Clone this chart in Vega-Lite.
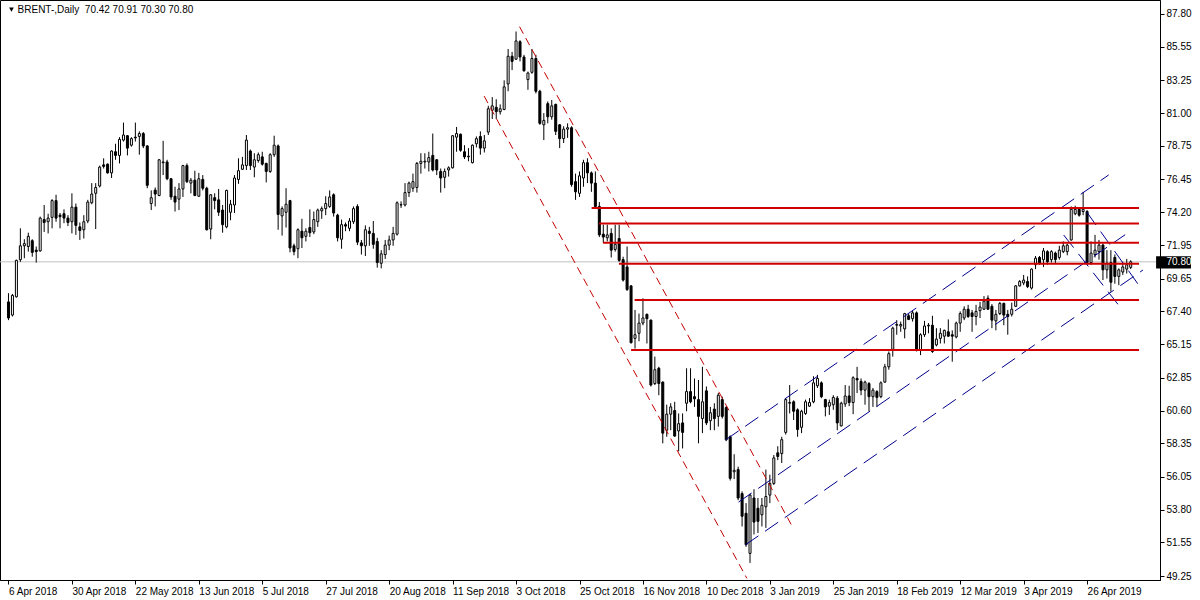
{
  "$schema": "https://vega.github.io/schema/vega-lite/v6.json",
  "width": 1160,
  "height": 580,
  "autosize": {"type": "none"},
  "padding": {"left": 0, "top": 0, "right": 40, "bottom": 20},
  "background": "#ffffff",
  "config": {
    "view": {"stroke": "#000000", "strokeWidth": 1},
    "font": "Liberation Sans",
    "axis": {"domainColor": "#000000", "tickColor": "#000000", "labelColor": "#000000", "labelFont": "Liberation Sans", "labelFontSize": 10, "grid": false}
  },
  "datasets": {
    "bars": [
      {"d":"2018-04-06","i":0,"o":68.05,"h":68.65,"l":66.8,"c":66.95},
      {"d":"2018-04-09","i":1,"o":67.15,"h":68.6,"l":67.05,"c":68.5},
      {"d":"2018-04-10","i":2,"o":68.4,"h":70.95,"l":68.35,"c":70.9},
      {"d":"2018-04-11","i":3,"o":70.95,"h":73.1,"l":70.8,"c":71.9},
      {"d":"2018-04-12","i":4,"o":71.9,"h":72.35,"l":71.05,"c":72.05},
      {"d":"2018-04-13","i":5,"o":71.85,"h":72.8,"l":71.5,"c":72.55},
      {"d":"2018-04-16","i":6,"o":72.25,"h":72.35,"l":71.15,"c":71.45},
      {"d":"2018-04-17","i":7,"o":71.6,"h":71.85,"l":70.75,"c":71.5},
      {"d":"2018-04-18","i":8,"o":71.55,"h":73.9,"l":71.5,"c":73.8},
      {"d":"2018-04-19","i":9,"o":73.7,"h":74.7,"l":72.85,"c":73.5},
      {"d":"2018-04-20","i":10,"o":73.55,"h":74.1,"l":72.75,"c":73.8},
      {"d":"2018-04-23","i":11,"o":73.85,"h":75.1,"l":73.1,"c":75.0},
      {"d":"2018-04-24","i":12,"o":75.0,"h":75.4,"l":73.55,"c":73.8},
      {"d":"2018-04-25","i":13,"o":74.0,"h":74.15,"l":73.1,"c":73.9},
      {"d":"2018-04-26","i":14,"o":74.1,"h":74.4,"l":73.45,"c":73.8},
      {"d":"2018-04-27","i":15,"o":73.8,"h":74.0,"l":73.25,"c":73.5},
      {"d":"2018-04-30","i":16,"o":73.55,"h":75.5,"l":72.75,"c":74.55},
      {"d":"2018-05-01","i":17,"o":74.55,"h":74.8,"l":72.65,"c":73.3},
      {"d":"2018-05-02","i":18,"o":73.2,"h":73.5,"l":72.3,"c":72.95},
      {"d":"2018-05-03","i":19,"o":73.0,"h":74.0,"l":72.4,"c":73.55},
      {"d":"2018-05-04","i":20,"o":73.6,"h":75.05,"l":73.45,"c":74.9},
      {"d":"2018-05-07","i":21,"o":74.85,"h":76.2,"l":74.75,"c":75.45},
      {"d":"2018-05-08","i":22,"o":75.5,"h":76.2,"l":73.05,"c":75.9},
      {"d":"2018-05-09","i":23,"o":76.0,"h":77.4,"l":75.9,"c":77.3},
      {"d":"2018-05-10","i":24,"o":77.45,"h":77.9,"l":77.2,"c":77.35},
      {"d":"2018-05-11","i":25,"o":77.5,"h":77.55,"l":76.85,"c":76.9},
      {"d":"2018-05-14","i":26,"o":76.9,"h":78.45,"l":76.55,"c":78.4},
      {"d":"2018-05-15","i":27,"o":78.35,"h":78.9,"l":77.8,"c":78.1},
      {"d":"2018-05-16","i":28,"o":78.1,"h":79.35,"l":77.55,"c":79.2},
      {"d":"2018-05-17","i":29,"o":79.15,"h":80.35,"l":79.05,"c":79.5},
      {"d":"2018-05-18","i":30,"o":79.45,"h":79.5,"l":78.1,"c":78.6},
      {"d":"2018-05-21","i":31,"o":78.8,"h":79.35,"l":78.7,"c":79.25},
      {"d":"2018-05-22","i":32,"o":79.35,"h":80.35,"l":79.05,"c":79.3},
      {"d":"2018-05-23","i":33,"o":79.4,"h":79.75,"l":78.15,"c":79.6},
      {"d":"2018-05-24","i":34,"o":79.6,"h":79.7,"l":78.6,"c":78.75},
      {"d":"2018-05-25","i":35,"o":78.75,"h":78.8,"l":75.85,"c":76.05},
      {"d":"2018-05-28","i":36,"o":74.8,"h":75.7,"l":74.35,"c":75.2},
      {"d":"2018-05-29","i":37,"o":75.72,"h":75.9,"l":74.6,"c":75.45},
      {"d":"2018-05-30","i":38,"o":75.35,"h":77.85,"l":75.3,"c":77.8},
      {"d":"2018-05-31","i":39,"o":77.6,"h":79.1,"l":76.75,"c":77.65},
      {"d":"2018-06-01","i":40,"o":77.65,"h":77.8,"l":76.4,"c":76.5},
      {"d":"2018-06-04","i":41,"o":76.5,"h":76.55,"l":75.05,"c":75.25},
      {"d":"2018-06-05","i":42,"o":75.3,"h":75.95,"l":74.25,"c":74.9},
      {"d":"2018-06-06","i":43,"o":75.1,"h":76.2,"l":74.35,"c":75.8},
      {"d":"2018-06-07","i":44,"o":75.8,"h":77.45,"l":75.25,"c":77.4},
      {"d":"2018-06-08","i":45,"o":77.4,"h":77.55,"l":76.2,"c":76.3},
      {"d":"2018-06-11","i":46,"o":76.2,"h":76.55,"l":75.5,"c":76.4},
      {"d":"2018-06-12","i":47,"o":76.4,"h":77.05,"l":75.3,"c":75.35},
      {"d":"2018-06-13","i":48,"o":75.3,"h":76.9,"l":75.25,"c":76.5},
      {"d":"2018-06-14","i":49,"o":76.45,"h":76.75,"l":75.7,"c":75.85},
      {"d":"2018-06-15","i":50,"o":75.85,"h":75.95,"l":72.95,"c":73.0},
      {"d":"2018-06-18","i":51,"o":73.05,"h":75.45,"l":72.35,"c":75.4},
      {"d":"2018-06-19","i":52,"o":75.2,"h":75.5,"l":74.4,"c":75.0},
      {"d":"2018-06-20","i":53,"o":75.05,"h":75.8,"l":73.95,"c":74.2},
      {"d":"2018-06-21","i":54,"o":74.35,"h":74.7,"l":72.8,"c":73.35},
      {"d":"2018-06-22","i":55,"o":73.2,"h":75.75,"l":73.1,"c":75.7},
      {"d":"2018-06-25","i":56,"o":74.2,"h":75.05,"l":73.65,"c":74.75},
      {"d":"2018-06-26","i":57,"o":74.7,"h":76.75,"l":74.15,"c":76.55},
      {"d":"2018-06-27","i":58,"o":76.45,"h":77.9,"l":76.15,"c":77.05},
      {"d":"2018-06-28","i":59,"o":77.15,"h":78.0,"l":77.1,"c":77.45},
      {"d":"2018-06-29","i":60,"o":77.4,"h":79.5,"l":77.1,"c":79.15},
      {"d":"2018-07-02","i":61,"o":78.4,"h":78.5,"l":77.1,"c":77.4},
      {"d":"2018-07-03","i":62,"o":77.3,"h":78.25,"l":76.6,"c":77.8},
      {"d":"2018-07-04","i":63,"o":77.75,"h":78.3,"l":77.6,"c":78.15},
      {"d":"2018-07-05","i":64,"o":78.0,"h":78.35,"l":77.4,"c":77.5},
      {"d":"2018-07-06","i":65,"o":77.55,"h":77.6,"l":76.25,"c":77.0},
      {"d":"2018-07-09","i":66,"o":77.0,"h":78.25,"l":76.9,"c":78.15},
      {"d":"2018-07-10","i":67,"o":78.15,"h":79.45,"l":78.0,"c":78.8},
      {"d":"2018-07-11","i":68,"o":78.75,"h":78.85,"l":73.0,"c":74.05},
      {"d":"2018-07-12","i":69,"o":73.95,"h":74.6,"l":72.6,"c":74.45},
      {"d":"2018-07-13","i":70,"o":74.2,"h":75.85,"l":73.15,"c":74.75},
      {"d":"2018-07-16","i":71,"o":75.0,"h":75.05,"l":71.45,"c":71.75},
      {"d":"2018-07-17","i":72,"o":71.9,"h":72.05,"l":71.25,"c":71.5},
      {"d":"2018-07-18","i":73,"o":71.7,"h":73.1,"l":71.05,"c":73.0},
      {"d":"2018-07-19","i":74,"o":72.9,"h":73.75,"l":71.75,"c":72.45},
      {"d":"2018-07-20","i":75,"o":72.55,"h":73.1,"l":72.2,"c":72.9},
      {"d":"2018-07-23","i":76,"o":73.15,"h":74.4,"l":72.5,"c":72.8},
      {"d":"2018-07-24","i":77,"o":72.85,"h":74.25,"l":72.7,"c":73.7},
      {"d":"2018-07-25","i":78,"o":73.55,"h":74.45,"l":73.2,"c":74.35},
      {"d":"2018-07-26","i":79,"o":74.3,"h":74.6,"l":73.75,"c":74.45},
      {"d":"2018-07-27","i":80,"o":74.45,"h":75.3,"l":74.0,"c":74.8},
      {"d":"2018-07-30","i":81,"o":74.6,"h":75.7,"l":74.5,"c":75.25},
      {"d":"2018-07-31","i":82,"o":75.4,"h":75.5,"l":73.9,"c":74.15},
      {"d":"2018-08-01","i":83,"o":74.0,"h":74.1,"l":72.2,"c":72.45},
      {"d":"2018-08-02","i":84,"o":72.35,"h":73.7,"l":71.7,"c":73.35},
      {"d":"2018-08-03","i":85,"o":73.35,"h":73.5,"l":72.9,"c":73.25},
      {"d":"2018-08-06","i":86,"o":73.1,"h":73.8,"l":72.9,"c":73.6},
      {"d":"2018-08-07","i":87,"o":73.55,"h":74.6,"l":73.4,"c":74.45},
      {"d":"2018-08-08","i":88,"o":74.6,"h":74.75,"l":71.95,"c":72.15},
      {"d":"2018-08-09","i":89,"o":72.1,"h":72.3,"l":71.3,"c":71.9},
      {"d":"2018-08-10","i":90,"o":71.9,"h":73.3,"l":71.2,"c":73.0},
      {"d":"2018-08-13","i":91,"o":72.9,"h":73.2,"l":71.9,"c":72.75},
      {"d":"2018-08-14","i":92,"o":72.75,"h":73.6,"l":71.7,"c":72.0},
      {"d":"2018-08-15","i":93,"o":72.2,"h":72.45,"l":70.4,"c":70.75},
      {"d":"2018-08-16","i":94,"o":70.7,"h":71.6,"l":70.35,"c":71.35},
      {"d":"2018-08-17","i":95,"o":71.3,"h":72.3,"l":71.0,"c":71.95},
      {"d":"2018-08-20","i":96,"o":71.95,"h":72.6,"l":71.6,"c":72.3},
      {"d":"2018-08-21","i":97,"o":72.3,"h":73.2,"l":71.9,"c":72.75},
      {"d":"2018-08-22","i":98,"o":72.7,"h":74.95,"l":72.6,"c":74.85},
      {"d":"2018-08-23","i":99,"o":74.7,"h":74.95,"l":74.5,"c":74.72},
      {"d":"2018-08-24","i":100,"o":74.7,"h":76.2,"l":74.6,"c":75.55},
      {"d":"2018-08-27","i":101,"o":75.55,"h":76.3,"l":75.25,"c":76.2},
      {"d":"2018-08-28","i":102,"o":75.85,"h":76.85,"l":75.6,"c":76.3},
      {"d":"2018-08-29","i":103,"o":75.9,"h":77.65,"l":75.55,"c":77.55},
      {"d":"2018-08-30","i":104,"o":77.55,"h":78.25,"l":76.85,"c":77.7},
      {"d":"2018-08-31","i":105,"o":77.65,"h":78.25,"l":77.2,"c":77.7},
      {"d":"2018-09-03","i":106,"o":77.65,"h":78.35,"l":77.0,"c":77.95},
      {"d":"2018-09-04","i":107,"o":78.1,"h":79.6,"l":77.0,"c":77.1},
      {"d":"2018-09-05","i":108,"o":77.8,"h":77.85,"l":76.75,"c":77.1},
      {"d":"2018-09-06","i":109,"o":77.0,"h":77.2,"l":75.55,"c":76.55},
      {"d":"2018-09-07","i":110,"o":76.6,"h":77.2,"l":75.85,"c":77.0},
      {"d":"2018-09-10","i":111,"o":77.1,"h":77.35,"l":76.65,"c":77.25},
      {"d":"2018-09-11","i":112,"o":77.25,"h":79.5,"l":77.2,"c":79.45},
      {"d":"2018-09-12","i":113,"o":79.35,"h":80.05,"l":78.35,"c":79.6},
      {"d":"2018-09-13","i":114,"o":79.55,"h":79.6,"l":78.35,"c":78.45},
      {"d":"2018-09-14","i":115,"o":78.35,"h":78.8,"l":77.85,"c":78.0},
      {"d":"2018-09-17","i":116,"o":78.0,"h":78.6,"l":77.7,"c":78.05},
      {"d":"2018-09-18","i":117,"o":77.6,"h":78.85,"l":77.55,"c":78.8},
      {"d":"2018-09-19","i":118,"o":78.9,"h":79.4,"l":78.65,"c":79.25},
      {"d":"2018-09-20","i":119,"o":79.4,"h":79.75,"l":78.15,"c":78.6},
      {"d":"2018-09-21","i":120,"o":78.6,"h":79.5,"l":78.3,"c":79.1},
      {"d":"2018-09-24","i":121,"o":79.7,"h":81.5,"l":79.5,"c":81.3},
      {"d":"2018-09-25","i":122,"o":81.2,"h":82.1,"l":80.6,"c":81.5},
      {"d":"2018-09-26","i":123,"o":81.4,"h":81.95,"l":80.6,"c":81.1},
      {"d":"2018-09-27","i":124,"o":81.1,"h":81.6,"l":80.9,"c":81.3},
      {"d":"2018-09-28","i":125,"o":81.25,"h":83.25,"l":81.2,"c":82.8},
      {"d":"2018-10-01","i":126,"o":83.0,"h":85.4,"l":82.5,"c":84.9},
      {"d":"2018-10-02","i":127,"o":84.9,"h":85.2,"l":83.95,"c":84.55},
      {"d":"2018-10-03","i":128,"o":84.7,"h":86.6,"l":84.65,"c":85.95},
      {"d":"2018-10-04","i":129,"o":85.9,"h":86.0,"l":84.55,"c":84.85},
      {"d":"2018-10-05","i":130,"o":84.85,"h":85.0,"l":83.85,"c":83.9},
      {"d":"2018-10-08","i":131,"o":83.3,"h":83.85,"l":82.6,"c":83.75},
      {"d":"2018-10-09","i":132,"o":83.8,"h":85.4,"l":83.7,"c":84.75},
      {"d":"2018-10-10","i":133,"o":84.75,"h":85.0,"l":82.35,"c":82.5},
      {"d":"2018-10-11","i":134,"o":82.5,"h":82.6,"l":80.2,"c":80.3},
      {"d":"2018-10-12","i":135,"o":80.2,"h":81.0,"l":79.15,"c":80.5},
      {"d":"2018-10-15","i":136,"o":81.65,"h":81.8,"l":80.3,"c":80.75},
      {"d":"2018-10-16","i":137,"o":80.75,"h":81.9,"l":80.55,"c":81.5},
      {"d":"2018-10-17","i":138,"o":81.6,"h":81.65,"l":79.5,"c":79.75},
      {"d":"2018-10-18","i":139,"o":80.2,"h":80.25,"l":78.6,"c":79.25},
      {"d":"2018-10-19","i":140,"o":79.25,"h":80.1,"l":78.95,"c":79.9},
      {"d":"2018-10-22","i":141,"o":79.9,"h":80.3,"l":79.3,"c":80.0},
      {"d":"2018-10-23","i":142,"o":80.0,"h":80.1,"l":75.95,"c":76.1},
      {"d":"2018-10-24","i":143,"o":76.3,"h":76.85,"l":75.05,"c":75.6},
      {"d":"2018-10-25","i":144,"o":75.5,"h":77.0,"l":75.25,"c":76.7},
      {"d":"2018-10-26","i":145,"o":76.55,"h":77.8,"l":75.95,"c":77.6},
      {"d":"2018-10-29","i":146,"o":77.6,"h":77.9,"l":76.2,"c":76.9},
      {"d":"2018-10-30","i":147,"o":76.9,"h":77.0,"l":75.6,"c":76.2},
      {"d":"2018-10-31","i":148,"o":76.2,"h":77.0,"l":74.5,"c":74.6},
      {"d":"2018-11-01","i":149,"o":74.6,"h":74.9,"l":72.5,"c":72.65},
      {"d":"2018-11-02","i":150,"o":72.7,"h":73.35,"l":72.1,"c":72.5},
      {"d":"2018-11-05","i":151,"o":72.45,"h":73.35,"l":72.2,"c":72.65},
      {"d":"2018-11-06","i":152,"o":72.75,"h":73.1,"l":71.1,"c":71.6},
      {"d":"2018-11-07","i":153,"o":71.65,"h":73.35,"l":71.5,"c":72.0},
      {"d":"2018-11-08","i":154,"o":72.4,"h":73.35,"l":70.8,"c":70.9},
      {"d":"2018-11-09","i":155,"o":70.95,"h":71.15,"l":69.45,"c":69.55},
      {"d":"2018-11-12","i":156,"o":70.45,"h":71.85,"l":68.8,"c":68.9},
      {"d":"2018-11-13","i":157,"o":69.15,"h":69.2,"l":65.2,"c":65.25},
      {"d":"2018-11-14","i":158,"o":65.55,"h":67.5,"l":64.85,"c":65.8},
      {"d":"2018-11-15","i":159,"o":65.9,"h":67.25,"l":65.35,"c":66.6},
      {"d":"2018-11-16","i":160,"o":66.6,"h":68.3,"l":66.45,"c":66.95},
      {"d":"2018-11-19","i":161,"o":67.2,"h":67.25,"l":65.2,"c":66.9},
      {"d":"2018-11-20","i":162,"o":66.8,"h":66.85,"l":62.25,"c":62.35},
      {"d":"2018-11-21","i":163,"o":62.45,"h":64.3,"l":62.35,"c":63.4},
      {"d":"2018-11-22","i":164,"o":63.5,"h":63.6,"l":61.65,"c":62.45},
      {"d":"2018-11-23","i":165,"o":62.55,"h":62.6,"l":58.35,"c":59.05},
      {"d":"2018-11-26","i":166,"o":59.25,"h":61.0,"l":58.8,"c":60.35},
      {"d":"2018-11-27","i":167,"o":60.35,"h":61.1,"l":59.25,"c":60.85},
      {"d":"2018-11-28","i":168,"o":60.6,"h":61.2,"l":58.8,"c":58.85},
      {"d":"2018-11-29","i":169,"o":59.2,"h":60.4,"l":57.8,"c":59.7},
      {"d":"2018-11-30","i":170,"o":59.75,"h":60.4,"l":58.0,"c":59.1},
      {"d":"2018-12-03","i":171,"o":61.1,"h":63.5,"l":60.55,"c":61.9},
      {"d":"2018-12-04","i":172,"o":61.9,"h":63.5,"l":61.1,"c":61.2},
      {"d":"2018-12-05","i":173,"o":61.55,"h":62.8,"l":60.85,"c":61.4},
      {"d":"2018-12-06","i":174,"o":61.35,"h":62.7,"l":58.35,"c":60.2},
      {"d":"2018-12-07","i":175,"o":60.05,"h":63.6,"l":59.05,"c":61.2},
      {"d":"2018-12-10","i":176,"o":61.95,"h":62.25,"l":59.6,"c":59.75},
      {"d":"2018-12-11","i":177,"o":59.9,"h":60.85,"l":59.25,"c":60.45},
      {"d":"2018-12-12","i":178,"o":60.7,"h":61.1,"l":59.25,"c":60.05},
      {"d":"2018-12-13","i":179,"o":60.2,"h":61.8,"l":59.5,"c":61.65},
      {"d":"2018-12-14","i":180,"o":61.35,"h":61.55,"l":60.05,"c":60.2},
      {"d":"2018-12-17","i":181,"o":60.8,"h":60.9,"l":58.5,"c":58.6},
      {"d":"2018-12-18","i":182,"o":58.8,"h":58.9,"l":55.8,"c":55.95},
      {"d":"2018-12-19","i":183,"o":56.4,"h":57.6,"l":55.9,"c":56.5},
      {"d":"2018-12-20","i":184,"o":56.55,"h":56.75,"l":54.45,"c":54.6},
      {"d":"2018-12-21","i":185,"o":54.9,"h":55.05,"l":52.65,"c":53.35},
      {"d":"2018-12-24","i":186,"o":53.55,"h":54.25,"l":51.25,"c":51.4},
      {"d":"2018-12-26","i":187,"o":50.8,"h":54.9,"l":50.15,"c":54.8},
      {"d":"2018-12-27","i":188,"o":54.6,"h":55.2,"l":52.1,"c":52.95},
      {"d":"2018-12-28","i":189,"o":53.9,"h":54.6,"l":52.2,"c":53.0},
      {"d":"2018-12-31","i":190,"o":53.45,"h":54.6,"l":52.65,"c":54.1},
      {"d":"2019-01-02","i":191,"o":54.0,"h":56.55,"l":52.55,"c":54.7},
      {"d":"2019-01-03","i":192,"o":54.8,"h":56.2,"l":54.25,"c":55.6},
      {"d":"2019-01-04","i":193,"o":55.6,"h":57.55,"l":55.5,"c":57.35},
      {"d":"2019-01-07","i":194,"o":57.7,"h":58.15,"l":57.2,"c":57.45},
      {"d":"2019-01-08","i":195,"o":57.65,"h":58.8,"l":57.0,"c":58.6},
      {"d":"2019-01-09","i":196,"o":59.1,"h":61.45,"l":58.95,"c":61.35},
      {"d":"2019-01-10","i":197,"o":61.1,"h":62.35,"l":60.4,"c":61.15},
      {"d":"2019-01-11","i":198,"o":61.2,"h":61.3,"l":59.95,"c":60.55},
      {"d":"2019-01-14","i":199,"o":60.65,"h":60.75,"l":58.8,"c":59.3},
      {"d":"2019-01-15","i":200,"o":59.45,"h":60.65,"l":59.05,"c":60.55},
      {"d":"2019-01-16","i":201,"o":60.4,"h":61.35,"l":60.3,"c":61.2},
      {"d":"2019-01-17","i":202,"o":60.9,"h":61.45,"l":60.85,"c":61.15},
      {"d":"2019-01-18","i":203,"o":61.2,"h":62.95,"l":61.1,"c":62.5},
      {"d":"2019-01-21","i":204,"o":62.3,"h":63.05,"l":62.15,"c":62.8},
      {"d":"2019-01-22","i":205,"o":62.5,"h":62.6,"l":61.45,"c":61.55},
      {"d":"2019-01-23","i":206,"o":61.35,"h":61.4,"l":60.2,"c":60.85},
      {"d":"2019-01-24","i":207,"o":60.9,"h":61.35,"l":60.3,"c":61.15},
      {"d":"2019-01-25","i":208,"o":61.0,"h":61.65,"l":60.65,"c":61.5},
      {"d":"2019-01-28","i":209,"o":61.45,"h":61.6,"l":59.25,"c":59.75},
      {"d":"2019-01-29","i":210,"o":59.55,"h":61.2,"l":59.5,"c":61.1},
      {"d":"2019-01-30","i":211,"o":61.05,"h":62.35,"l":60.85,"c":61.6},
      {"d":"2019-01-31","i":212,"o":61.6,"h":62.3,"l":60.9,"c":61.15},
      {"d":"2019-02-01","i":213,"o":61.15,"h":62.95,"l":60.35,"c":62.85},
      {"d":"2019-02-04","i":214,"o":62.8,"h":63.6,"l":61.8,"c":62.7},
      {"d":"2019-02-05","i":215,"o":62.6,"h":62.8,"l":61.65,"c":62.0},
      {"d":"2019-02-06","i":216,"o":62.0,"h":62.65,"l":61.0,"c":62.55},
      {"d":"2019-02-07","i":217,"o":62.45,"h":62.55,"l":60.55,"c":61.55},
      {"d":"2019-02-08","i":218,"o":61.55,"h":62.15,"l":60.85,"c":62.0},
      {"d":"2019-02-11","i":219,"o":61.9,"h":62.0,"l":60.85,"c":61.5},
      {"d":"2019-02-12","i":220,"o":61.55,"h":62.6,"l":61.45,"c":62.5},
      {"d":"2019-02-13","i":221,"o":62.55,"h":63.8,"l":62.5,"c":63.6},
      {"d":"2019-02-14","i":222,"o":63.6,"h":64.65,"l":63.4,"c":64.5},
      {"d":"2019-02-15","i":223,"o":64.8,"h":66.35,"l":64.3,"c":66.25},
      {"d":"2019-02-18","i":224,"o":66.45,"h":66.8,"l":65.8,"c":66.5},
      {"d":"2019-02-19","i":225,"o":66.4,"h":66.7,"l":66.0,"c":66.5},
      {"d":"2019-02-20","i":226,"o":66.2,"h":67.3,"l":65.55,"c":67.25},
      {"d":"2019-02-21","i":227,"o":67.1,"h":67.25,"l":66.8,"c":66.85},
      {"d":"2019-02-22","i":228,"o":66.9,"h":67.45,"l":66.7,"c":67.3},
      {"d":"2019-02-25","i":229,"o":67.3,"h":67.4,"l":64.65,"c":64.75},
      {"d":"2019-02-26","i":230,"o":64.75,"h":65.9,"l":64.4,"c":65.8},
      {"d":"2019-02-27","i":231,"o":65.8,"h":66.75,"l":65.65,"c":66.4},
      {"d":"2019-02-28","i":232,"o":66.4,"h":66.6,"l":65.9,"c":66.45},
      {"d":"2019-03-01","i":233,"o":66.45,"h":67.1,"l":64.55,"c":64.65},
      {"d":"2019-03-04","i":234,"o":65.1,"h":66.25,"l":65.0,"c":65.5},
      {"d":"2019-03-05","i":235,"o":65.55,"h":66.25,"l":65.2,"c":65.9},
      {"d":"2019-03-06","i":236,"o":65.7,"h":66.15,"l":65.2,"c":66.1},
      {"d":"2019-03-07","i":237,"o":66.0,"h":66.85,"l":65.65,"c":65.7},
      {"d":"2019-03-08","i":238,"o":65.8,"h":66.1,"l":63.95,"c":65.7},
      {"d":"2019-03-11","i":239,"o":65.65,"h":66.7,"l":65.55,"c":66.6},
      {"d":"2019-03-12","i":240,"o":66.6,"h":67.4,"l":66.0,"c":67.25},
      {"d":"2019-03-13","i":241,"o":66.95,"h":67.75,"l":66.8,"c":67.55},
      {"d":"2019-03-14","i":242,"o":67.55,"h":67.85,"l":66.95,"c":67.05},
      {"d":"2019-03-15","i":243,"o":67.3,"h":67.5,"l":66.0,"c":67.05},
      {"d":"2019-03-18","i":244,"o":67.05,"h":67.85,"l":66.45,"c":67.4},
      {"d":"2019-03-19","i":245,"o":67.45,"h":68.05,"l":66.95,"c":67.7},
      {"d":"2019-03-20","i":246,"o":67.55,"h":68.45,"l":67.5,"c":68.1},
      {"d":"2019-03-21","i":247,"o":68.3,"h":68.5,"l":67.5,"c":67.55},
      {"d":"2019-03-22","i":248,"o":67.75,"h":67.9,"l":66.25,"c":66.8},
      {"d":"2019-03-25","i":249,"o":66.75,"h":67.5,"l":66.1,"c":67.2},
      {"d":"2019-03-26","i":250,"o":67.25,"h":68.05,"l":67.15,"c":67.95},
      {"d":"2019-03-27","i":251,"o":67.95,"h":68.0,"l":66.45,"c":67.15},
      {"d":"2019-03-28","i":252,"o":67.2,"h":67.5,"l":65.8,"c":67.05},
      {"d":"2019-03-29","i":253,"o":67.2,"h":68.0,"l":67.05,"c":67.55},
      {"d":"2019-04-01","i":254,"o":67.75,"h":69.2,"l":67.7,"c":69.15},
      {"d":"2019-04-02","i":255,"o":69.15,"h":69.55,"l":69.1,"c":69.45},
      {"d":"2019-04-03","i":256,"o":69.35,"h":69.9,"l":69.2,"c":69.55},
      {"d":"2019-04-04","i":257,"o":69.45,"h":69.8,"l":69.0,"c":69.1},
      {"d":"2019-04-05","i":258,"o":69.0,"h":70.35,"l":68.9,"c":70.3},
      {"d":"2019-04-08","i":259,"o":70.6,"h":71.2,"l":70.3,"c":71.05},
      {"d":"2019-04-09","i":260,"o":71.1,"h":71.2,"l":70.6,"c":70.7},
      {"d":"2019-04-10","i":261,"o":70.95,"h":71.75,"l":70.45,"c":71.55},
      {"d":"2019-04-11","i":262,"o":71.5,"h":71.6,"l":70.6,"c":70.8},
      {"d":"2019-04-12","i":263,"o":70.95,"h":71.6,"l":70.75,"c":71.5},
      {"d":"2019-04-15","i":264,"o":71.4,"h":71.5,"l":70.7,"c":70.95},
      {"d":"2019-04-16","i":265,"o":71.1,"h":71.9,"l":70.95,"c":71.6},
      {"d":"2019-04-17","i":266,"o":71.5,"h":72.2,"l":71.4,"c":71.9},
      {"d":"2019-04-18","i":267,"o":71.5,"h":72.05,"l":71.25,"c":71.95},
      {"d":"2019-04-22","i":268,"o":72.3,"h":74.6,"l":72.25,"c":74.4},
      {"d":"2019-04-23","i":269,"o":74.1,"h":74.65,"l":74.0,"c":74.4},
      {"d":"2019-04-24","i":270,"o":74.4,"h":74.55,"l":73.9,"c":74.0},
      {"d":"2019-04-25","i":271,"o":74.25,"h":75.6,"l":74.0,"c":74.4},
      {"d":"2019-04-26","i":272,"o":74.25,"h":74.35,"l":70.6,"c":70.75},
      {"d":"2019-04-29","i":273,"o":70.75,"h":72.2,"l":70.6,"c":71.4},
      {"d":"2019-04-30","i":274,"o":71.3,"h":72.65,"l":71.1,"c":71.6},
      {"d":"2019-05-01","i":275,"o":71.5,"h":72.3,"l":70.95,"c":71.95},
      {"d":"2019-05-02","i":276,"o":71.95,"h":72.05,"l":69.55,"c":70.25},
      {"d":"2019-05-03","i":277,"o":70.25,"h":71.6,"l":69.65,"c":70.7},
      {"d":"2019-05-06","i":278,"o":70.75,"h":71.6,"l":68.75,"c":69.4},
      {"d":"2019-05-07","i":279,"o":71.1,"h":71.3,"l":69.3,"c":69.8},
      {"d":"2019-05-08","i":280,"o":69.8,"h":70.35,"l":69.2,"c":70.25},
      {"d":"2019-05-09","i":281,"o":70.1,"h":70.8,"l":69.9,"c":70.45},
      {"d":"2019-05-10","i":282,"o":70.3,"h":71.0,"l":70.0,"c":70.6},
      {"d":"2019-05-13","i":283,"o":70.42,"h":70.91,"l":70.3,"c":70.8}
    ],
    "downChannel": [
      {"line":"upper","i":128.875,"p":86.93},
      {"line":"upper","i":197.45,"p":52.75},
      {"line":"lower","i":119.95,"p":82.17},
      {"line":"lower","i":186.2,"p":49.09}
    ],
    "upChannel": [
      {"line":"top","i":180.8,"p":58.58},
      {"line":"top","i":277.45,"p":76.76},
      {"line":"middle","i":184.1,"p":54.32},
      {"line":"middle","i":281.6,"p":72.66},
      {"line":"bottom","i":185.8,"p":51.38},
      {"line":"bottom","i":286.1,"p":70.24},
      {"line":"fall1","i":271.9,"p":74.22},
      {"line":"fall1","i":285.9,"p":68.87},
      {"line":"fall2","i":266.1,"p":72.64},
      {"line":"fall2","i":280.9,"p":67.5}
    ],
    "levels": [
      {"p":74.5,"from":147.05,"to":285.1},
      {"p":73.43,"from":148.95,"to":285.1},
      {"p":72.11,"from":149.95,"to":285.1},
      {"p":70.66,"from":153.95,"to":285.1},
      {"p":68.18,"from":157.9,"to":285.1},
      {"p":64.75,"from":157.0,"to":285.1}
    ],
    "one": [{}]
  },
  "layer": [
    {
      "data": {"name": "one"},
      "mark": {"type": "rule", "color": "#c0c0c0", "strokeWidth": 1},
      "encoding": {
        "y": {"datum": 70.8, "type": "quantitative", "scale": {"domain": [48.976, 88.76], "nice": false, "zero": false},
          "axis": {"orient": "right", "title": null, "values": [87.8, 85.55, 83.25, 81.0, 78.75, 76.45, 74.2, 71.95, 70.8, 69.65, 67.4, 65.15, 62.85, 60.6, 58.35, 56.05, 53.8, 51.55, 49.25],
            "tickCount": 40, "format": ".2f", "tickSize": 4, "labelPadding": 2, "labelFlush": false, "labelOverlap": false, "zindex": 1,
            "labelColor": {"condition": {"test": "datum.value === 70.8", "value": "#ffffff"}, "value": "#000000"}}}
      }
    },
    {
      "data": {"name": "bars"},
      "mark": {"type": "rule", "color": "#000000", "strokeWidth": 1},
      "encoding": {
        "x": {"field": "i", "type": "quantitative", "scale": {"domain": [-0.875, 289.125], "nice": false, "zero": false},
          "axis": {"orient": "bottom", "title": null, "values": [0,16,32,48,64,80,96,112,128,144,160,176,192,208,224,240,256,272],
            "tickCount": 40,
            "labelExpr": "['6 Apr 2018','30 Apr 2018','22 May 2018','13 Jun 2018','5 Jul 2018','27 Jul 2018','20 Aug 2018','11 Sep 2018','3 Oct 2018','25 Oct 2018','16 Nov 2018','10 Dec 2018','3 Jan 2019','25 Jan 2019','18 Feb 2019','12 Mar 2019','3 Apr 2019','26 Apr 2019'][round(datum.value/16)]",
            "labelAlign": "left", "labelBaseline": "top", "tickSize": 4, "labelPadding": 2, "labelFlush": false, "labelOverlap": false}},
        "y": {"field": "l", "type": "quantitative"},
        "y2": {"field": "h"}
      }
    },
    {
      "data": {"name": "bars"},
      "mark": {"type": "bar", "orient": "vertical", "size": 2, "stroke": "#000000", "strokeWidth": 1},
      "encoding": {
        "x": {"field": "i", "type": "quantitative"},
        "y": {"field": "o", "type": "quantitative"},
        "y2": {"field": "c"},
        "fill": {"condition": {"test": "datum.c >= datum.o", "value": "#ffffff"}, "value": "#000000"}
      }
    },
    {
      "data": {"name": "downChannel"},
      "mark": {"type": "line", "color": "#c00000", "strokeWidth": 1, "strokeDash": [8, 5]},
      "encoding": {
        "x": {"field": "i", "type": "quantitative"},
        "y": {"field": "p", "type": "quantitative"},
        "detail": {"field": "line"}
      }
    },
    {
      "data": {"name": "upChannel"},
      "mark": {"type": "line", "color": "#00008b", "strokeWidth": 1, "strokeDash": [16, 8]},
      "encoding": {
        "x": {"field": "i", "type": "quantitative"},
        "y": {"field": "p", "type": "quantitative"},
        "detail": {"field": "line"}
      }
    },
    {
      "data": {"name": "levels"},
      "mark": {"type": "rule", "color": "#d00000", "strokeWidth": 2},
      "encoding": {
        "x": {"field": "from", "type": "quantitative"},
        "x2": {"field": "to"},
        "y": {"field": "p", "type": "quantitative"}
      }
    },
    {
      "data": {"name": "one"},
      "mark": {"type": "rect", "color": "#000000"},
      "encoding": {
        "x": {"datum": 289.4, "type": "quantitative"},
        "x2": {"datum": 298.2},
        "y": {"datum": 71.19, "type": "quantitative"},
        "y2": {"datum": 70.35}
      }
    },
    {
      "data": {"name": "one"},
      "mark": {"type": "point", "shape": "triangle-down", "filled": true, "color": "#000000", "size": 22, "opacity": 1},
      "encoding": {
        "x": {"datum": 0.75, "type": "quantitative"},
        "y": {"datum": 88.1, "type": "quantitative"}
      }
    },
    {
      "data": {"name": "one"},
      "mark": {"type": "text", "text": "BRENT-,Daily\u00a0\u00a070.42 70.91 70.30 70.80", "align": "left", "baseline": "middle", "fontSize": 10, "font": "Liberation Sans", "color": "#000000"},
      "encoding": {
        "x": {"datum": 2.3, "type": "quantitative"},
        "y": {"datum": 88.07, "type": "quantitative"}
      }
    }
  ]
}
